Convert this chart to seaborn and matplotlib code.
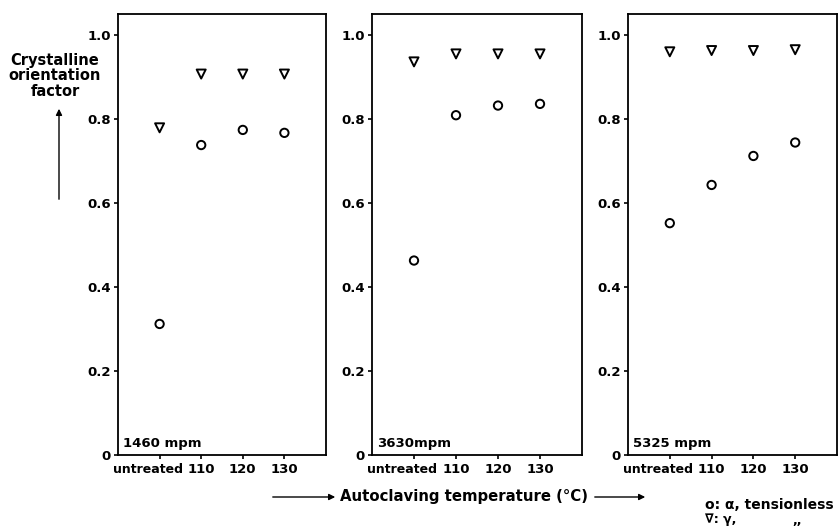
import matplotlib
matplotlib.use("Agg")
import matplotlib.pyplot as plt
import matplotlib.transforms as mtransforms
import seaborn as sns
import pandas as pd

# Temperatures on the x axis and take-up speeds of the three panels
categories = ["untreated", "110", "120", "130"]
speeds = ["1460 mpm", "3630mpm", "5325 mpm"]

# Crystalline orientation factor, α form (open circles)
alpha_1460 = [0.312, 0.738, 0.774, 0.767]
alpha_3630 = [0.463, 0.809, 0.832, 0.836]
alpha_5325 = [0.552, 0.643, 0.712, 0.744]

# Crystalline orientation factor, γ form (open down-triangles)
gamma_1460 = [0.779, 0.907, 0.907, 0.907]
gamma_3630 = [0.936, 0.955, 0.955, 0.955]
gamma_5325 = [0.960, 0.963, 0.963, 0.965]

y_ticks = [0, 0.2, 0.4, 0.6, 0.8, 1.0]
y_ticklabels = ["0", "0.2", "0.4", "0.6", "0.8", "1.0"]

alpha_sets = [alpha_1460, alpha_3630, alpha_5325]
gamma_sets = [gamma_1460, gamma_3630, gamma_5325]

sns.set_theme(style="ticks")
plt.rcParams["font.family"] = ["DejaVu Sans"]
plt.rcParams["font.weight"] = "bold"
plt.rcParams["text.color"] = "black"

W, H = 838, 529
fig = plt.figure(figsize=(W / 100, H / 100), dpi=100)


def rect(left, right, top, bottom):
    return [left / W, 1 - bottom / H, (right - left) / W, (bottom - top) / H]


panel_px = [(118, 326), (372, 582), (628, 837)]
top_px, bottom_px = 14, 455

for (left, right), speed, a_vals, g_vals in zip(panel_px, speeds, alpha_sets, gamma_sets):
    ax = fig.add_axes(rect(left, right, top_px, bottom_px))
    df_a = pd.DataFrame({"temp": categories, "f": a_vals})
    df_g = pd.DataFrame({"temp": categories, "f": g_vals})
    sns.stripplot(data=df_a, x="temp", y="f", order=categories, jitter=False,
                  marker="o", size=6, color="black", ax=ax)
    sns.stripplot(data=df_g, x="temp", y="f", order=categories, jitter=False,
                  marker="v", size=6.5, color="black", ax=ax)
    for coll in ax.collections:
        coll.set_facecolor("none")
        coll.set_edgecolor("black")
        coll.set_linewidth(1.4)

    ax.set_xlim(-1, 4)
    ax.set_ylim(0, 1.05)
    ax.set_yticks(y_ticks)
    ax.set_yticklabels(y_ticklabels)
    ax.set_xlabel("")
    ax.set_ylabel("")
    for sp in ax.spines.values():
        sp.set_visible(True)
        sp.set_linewidth(1.3)
        sp.set_color("black")
    ax.tick_params(direction="out", length=3, width=1.2, labelsize=9.5,
                   colors="black", pad=2)
    ax.tick_params(axis="x", pad=3)
    for lab in ax.get_xticklabels() + ax.get_yticklabels():
        lab.set_fontweight("bold")
    # the "untreated" label sits left of its tick
    first = ax.get_xticklabels()[0]
    first.set_fontsize(9)
    first.set_transform(first.get_transform() +
                        mtransforms.ScaledTranslation(-12 / 100, 0, fig.dpi_scale_trans))
    ax.text(0.025, 0.012, speed, transform=ax.transAxes, ha="left", va="bottom",
            fontsize=9.5, fontweight="bold", color="black")

# y-axis title with upward arrow
fig.text(55 / W, 1 - 76 / H, "Crystalline\norientation\nfactor", ha="center",
         va="center", fontsize=10.5, fontweight="bold", linespacing=1.0)
fig.add_artist(matplotlib.patches.FancyArrowPatch(
    (59 / W, 1 - 202 / H), (59 / W, 1 - 106 / H), transform=fig.transFigure,
    arrowstyle="-|>", mutation_scale=9, lw=1.0, color="black"))

# x-axis title with arrows on both sides
fig.text(464 / W, 1 - 497 / H, "Autoclaving temperature (°C)", ha="center",
         va="center", fontsize=10.7, fontweight="bold")
fig.add_artist(matplotlib.patches.FancyArrowPatch(
    (270 / W, 1 - 497 / H), (338 / W, 1 - 497 / H), transform=fig.transFigure,
    arrowstyle="-|>", mutation_scale=9, lw=1.0, color="black"))
fig.add_artist(matplotlib.patches.FancyArrowPatch(
    (592 / W, 1 - 497 / H), (648 / W, 1 - 497 / H), transform=fig.transFigure,
    arrowstyle="-|>", mutation_scale=9, lw=1.0, color="black"))

# key
fig.text(705 / W, 1 - 505 / H, "o: α, tensionless", ha="left", va="center",
         fontsize=10, fontweight="bold")
fig.text(705 / W, 1 - 520 / H, "∇: γ,", ha="left", va="center",
         fontsize=9, fontweight="bold")
fig.text(792 / W, 1 - 520 / H, ",,", ha="left", va="center",
         fontsize=9, fontweight="bold")

fig.savefig("out.png", dpi=100)
